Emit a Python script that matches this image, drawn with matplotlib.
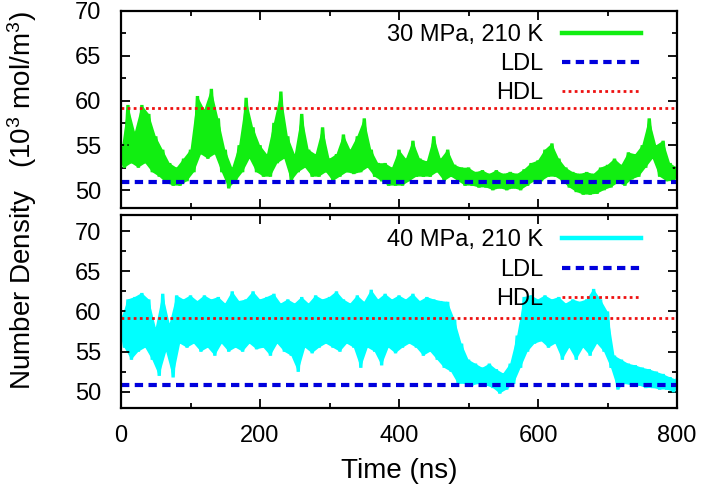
import numpy as np
import matplotlib
matplotlib.use('Agg')
import matplotlib.pyplot as plt
from matplotlib.ticker import MultipleLocator

plt.rcParams['font.family'] = ['Liberation Sans', 'DejaVu Sans']
plt.rcParams['mathtext.fontset'] = 'custom'
plt.rcParams['mathtext.rm'] = 'Liberation Sans'
plt.rcParams['mathtext.it'] = 'Liberation Sans:italic'

# ---------------- data ----------------
# upper excursions at t = 0,10,...,800 ns ; lower excursions at t = 5,15,...,795 ns
time_hi = np.arange(0, 801, 10)
time_lo = np.arange(5, 800, 10)

dens30_hi = [54, 59.5, 56.5, 59.5, 58.5, 56, 54.5, 53, 52.5, 53.5,
             54.5, 60.5, 59, 61.3, 58, 54.5, 52.5, 55, 60.3, 57,
             55, 54, 57.5, 61, 56, 54, 58.5, 54.5, 54, 57,
             53.5, 54, 56.2, 54.5, 56, 58, 54.5, 53, 53, 52.5,
             54.5, 53.5, 55.5, 53.5, 53.2, 56, 53.5, 54.5, 52.8, 52.5,
             52.5, 52, 52.2, 51.8, 52.2, 51.8, 52, 51.8, 52.3, 53,
             53.3, 54.5, 55.2, 53.5, 52.5, 52, 51.8, 52, 51.8, 52.5,
             52.8, 53.5, 52.8, 54.2, 54, 55, 58, 55, 55.5, 53,
             52.5]
dens30_lo = [52.5, 53, 52.5, 53, 52, 51.5, 50.8, 50.5, 50.5, 51,
             52, 54, 53.5, 54, 52, 50.2, 51, 52, 53.5, 52,
             51.5, 51.5, 53, 53.5, 51, 52, 52.5, 51.5, 51.5, 52,
             51, 51.5, 52, 51.8, 52, 52.5, 51.5, 51, 50.5, 50.5,
             50.5, 51, 51.5, 51.5, 51.5, 52, 51, 51.5, 51, 50.5,
             50.5, 50.3, 50.3, 50, 50.2, 50, 50.2, 50, 50.5, 51,
             51, 51.5, 51.5, 51, 50.3, 49.8, 49.5, 49.5, 49.6, 50,
             50.3, 50.8, 50.5, 51.2, 51.5, 52.5, 53.5, 51.5, 51, 51]

dens40_hi = [59, 61.5, 61.8, 62.3, 61.5, 58, 62.2, 58.5, 62, 61.5,
             62, 61.3, 62, 61.5, 61.8, 61, 62.5, 61.3, 61.5, 62.5,
             61.5, 61.8, 62.2, 61, 61.5, 61, 61.8, 61, 62, 61.5,
             61.8, 62.5, 61.5, 61, 62, 61.2, 62.7, 61.5, 62.2, 61.5,
             62, 61.5, 62.2, 61.3, 61.8, 61.5, 61.3, 61.2, 59, 56,
             54, 53.5, 53, 53.5, 52.8, 52.3, 53.5, 57, 61.8, 62,
             61.5, 62, 61.5, 61.8, 61, 61.5, 61.2, 61.5, 62.8, 61.5,
             60, 54.5, 54, 53.5, 53.3, 53, 52.8, 52.5, 52.2, 51.8,
             51.5]
dens40_lo = [55.5, 54, 55, 55.5, 54, 52, 55, 51.8, 56, 55.5,
             56, 55, 55.5, 54.5, 56, 55, 55.5, 55, 56, 55.3,
             55.5, 54.5, 56, 55, 54.5, 52.5, 55.5, 54.8, 55.5, 56,
             55.5, 55, 56, 55.5, 53, 55.5, 55, 53.3, 55.5, 54.8,
             55.5, 56, 55.5, 54.5, 55, 54, 53, 52.5, 51, 51,
             50.8, 51, 50.8, 50.5, 49.8, 50.3, 51, 53, 55, 56,
             56.3, 55.5, 56, 54, 55.5, 54, 55.5, 54.5, 56, 55,
             53, 50.3, 51, 50.8, 50.8, 50.5, 50.5, 50.3, 50.3, 50]

ldl_density = 50.85
hdl_density = 59.2

labels_top = ['30 MPa, 210 K', 'LDL', 'HDL']
labels_bot = ['40 MPa, 210 K', 'LDL', 'HDL']


def interleave(a, b):
    v = np.empty(len(a) + len(b))
    v[0::2] = a
    v[1::2] = b
    return v


# ---------------- figure ----------------
fig = plt.figure(figsize=(7.04, 4.97), dpi=100)
ax1 = fig.add_axes([0.1719, 0.5815, 0.7898, 0.3964])
ax2 = fig.add_axes([0.1719, 0.1791, 0.7898, 0.3883])

FS = 17
LFS = 20
ldl_color = '#0000dd'
hdl_color = '#ee1111'

for ax, hi, lo, col, labels, ylim, legy in (
        (ax1, dens30_hi, dens30_lo, '#11ee11', labels_top, (48, 70), 0.935),
        (ax2, dens40_hi, dens40_lo, '#00ffff', labels_bot, (48, 72), 0.925)):
    t = interleave(time_hi, time_lo)
    d = interleave(hi, lo)
    # band between upper and lower excursions
    ax.fill(np.concatenate([time_hi, time_lo[::-1]]),
            np.concatenate([hi, lo[::-1]]), color=col, lw=0)
    ax.plot(t, d, color=col, lw=2.4, solid_joinstyle='bevel',
            label=labels[0])
    ax.axhline(ldl_density, color=ldl_color, lw=3.0, dashes=(2.0, 1.3),
               label=labels[1])
    ax.axhline(hdl_density, color=hdl_color, lw=2.0, dashes=(1.0, 1.2),
               label=labels[2])
    ax.set_xlim(0, 800)
    ax.set_ylim(*ylim)
    ax.yaxis.set_major_locator(MultipleLocator(5))
    ax.yaxis.set_minor_locator(MultipleLocator(2.5))
    ax.xaxis.set_major_locator(MultipleLocator(200))
    ax.xaxis.set_minor_locator(MultipleLocator(100))
    ax.tick_params(which='both', direction='in', top=True, right=True,
                   width=1.3, labelsize=FS)
    ax.tick_params(which='major', length=6.5)
    ax.tick_params(which='minor', length=3.3)
    ax.tick_params(axis='y', pad=14)
    ax.tick_params(axis='x', pad=12)
    for s in ax.spines.values():
        s.set_linewidth(1.6)
    leg = ax.legend(loc='upper right', bbox_to_anchor=(0.935, legy),
                    frameon=False, markerfirst=False, fontsize=FS,
                    handlelength=3.35, handletextpad=0.8,
                    borderaxespad=0, borderpad=0, labelspacing=0.31)
    leg.get_lines()[0].set_linewidth(3.2)

ax1.tick_params(axis='x', labelbottom=False)
ax2.set_xlabel('Time (ns)', fontsize=LFS, labelpad=8)

fig.text(0.032, 1 - 201 / 497, 'Number Density   (10$^3$ mol/m$^3$)',
         rotation=90, ha='center', va='center', fontsize=LFS)

fig.savefig('out.png', dpi=100)
